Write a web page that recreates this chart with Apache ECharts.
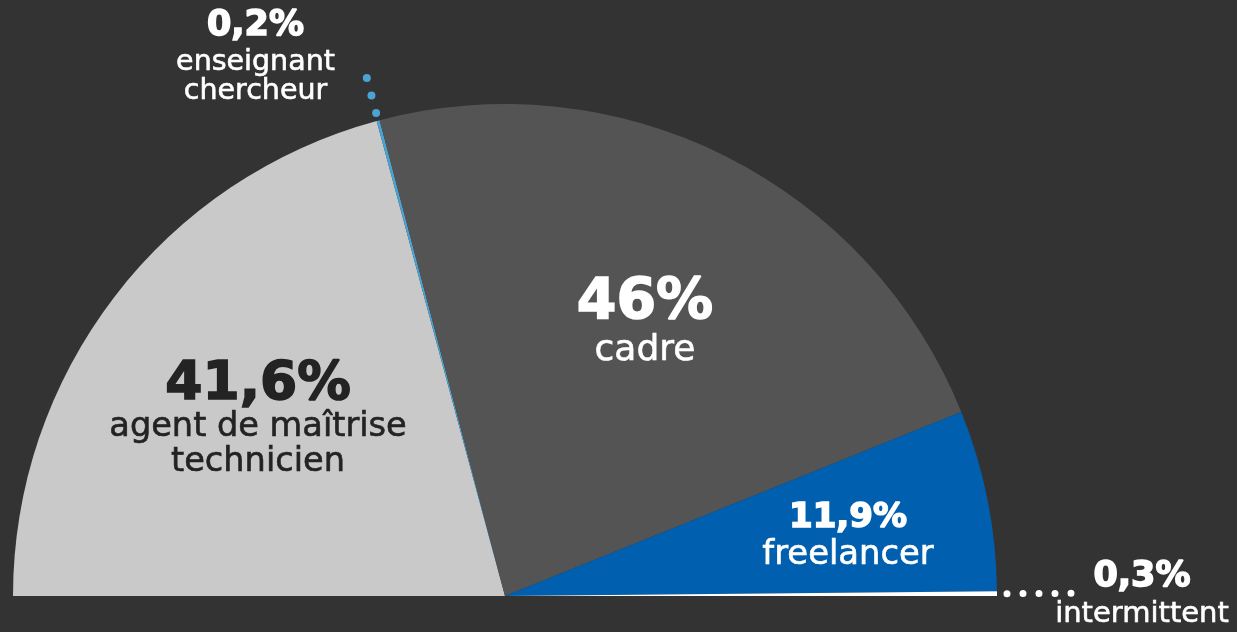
<!DOCTYPE html>
<html>
<head>
<meta charset="utf-8">
<script src="https://cdn.jsdelivr.net/npm/echarts@6/dist/echarts.min.js"></script>
<style>
  html, body { margin: 0; padding: 0; background: #333333; }
  #chart { width: 1237px; height: 632px; }
</style>
</head>
<body>
<div id="chart"></div>
<script>
// Répartition par statut (demi-camembert)
const categories = ['agent de maîtrise\ntechnicien', 'enseignant\nchercheur', 'cadre', 'freelancer', 'intermittent'];
const shares = [41.6, 0.2, 46, 11.9, 0.3];

// Styles
const sliceColors = ['#c9c9c9', '#4ba3d3', '#545454', '#005fae', '#ffffff'];
const textColors = ['#232323', '#ffffff', '#ffffff', '#ffffff', '#ffffff'];
const labelCenters = [[258, 420], [255.5, 55], [645, 322], [848, 537], [1142, 595]];
const numberFont = [53.5, 35, 57, 34, 35];
const numberLH = [49, 45, 57, 36, 39];
const nameFont = [33.6, 28.5, 36, 33.8, 29];
const nameLH = [35, 29, 36, 37, 36];
// dotted leaders for the thin slices: length, dot spacing, dash offset
const leaderLength = [0, 46, 0, 0, 76];
const leaderGap = [0, 18, 0, 0, 16];
const leaderOffset = [0, 10, 0, 0, 6];
const leaderWidth = [0, 8, 0, 0, 7];

const CENTER = [505, 596];
const RADIUS = 492;

const rich = {};
shares.forEach((v, i) => {
  rich['v' + i] = {
    fontFamily: 'DejaVu Sans', fontWeight: 'bold', fontSize: numberFont[i],
    lineHeight: numberLH[i], color: textColors[i], align: 'center',
    textBorderColor: textColors[i], textBorderWidth: 1.6
  };
  rich['t' + i] = {
    fontFamily: 'DejaVu Sans', fontWeight: 'normal', fontSize: nameFont[i],
    lineHeight: nameLH[i], color: textColors[i], align: 'center',
    textBorderColor: textColors[i], textBorderWidth: 0.6
  };
});

function fmtShare(v) {
  return String(v).replace('.', ',') + '%';
}

const mainData = shares.map((v, i) => ({
  name: categories[i],
  value: v,
  itemStyle: { color: sliceColors[i] }
}));

const leaderData = shares.map((v, i) => {
  const on = leaderLength[i] > 0;
  return {
    name: categories[i],
    value: v,
    label: { show: on },
    labelLine: {
      show: on,
      length: leaderLength[i],
      length2: 0,
      lineStyle: {
        color: sliceColors[i],
        width: leaderWidth[i] || 1,
        cap: 'round',
        type: [0, leaderGap[i] || 10],
        dashOffset: leaderOffset[i]
      }
    }
  };
});

const chart = echarts.init(document.getElementById('chart'), null, { renderer: 'canvas' });
chart.setOption({
  backgroundColor: '#333333',
  animation: false,
  series: [
    {
      type: 'pie',
      center: CENTER,
      radius: RADIUS,
      startAngle: 180,
      endAngle: 360,
      clockwise: true,
      avoidLabelOverlap: false,
      silent: true,
      itemStyle: { borderWidth: 0 },
      label: {
        show: true,
        position: 'inside',
        rich: rich,
        formatter: (p) => {
          const i = p.dataIndex;
          const lines = categories[i].split('\n').map(s => '{t' + i + '|' + s + '}').join('\n');
          return '{v' + i + '|' + fmtShare(shares[i]) + '}\n' + lines;
        }
      },
      labelLine: { show: false },
      labelLayout: (p) => ({
        x: labelCenters[p.dataIndex][0],
        y: labelCenters[p.dataIndex][1],
        align: 'center',
        verticalAlign: 'middle'
      }),
      data: mainData
    },
    {
      type: 'pie',
      center: CENTER,
      radius: RADIUS,
      startAngle: 180,
      endAngle: 360,
      clockwise: true,
      avoidLabelOverlap: false,
      silent: true,
      itemStyle: { color: 'rgba(0,0,0,0)', borderWidth: 0 },
      label: {
        position: 'outside',
        formatter: ' ',
        color: 'rgba(0,0,0,0)',
        fontSize: 2
      },
      data: leaderData
    }
  ]
});
</script>
</body>
</html>
